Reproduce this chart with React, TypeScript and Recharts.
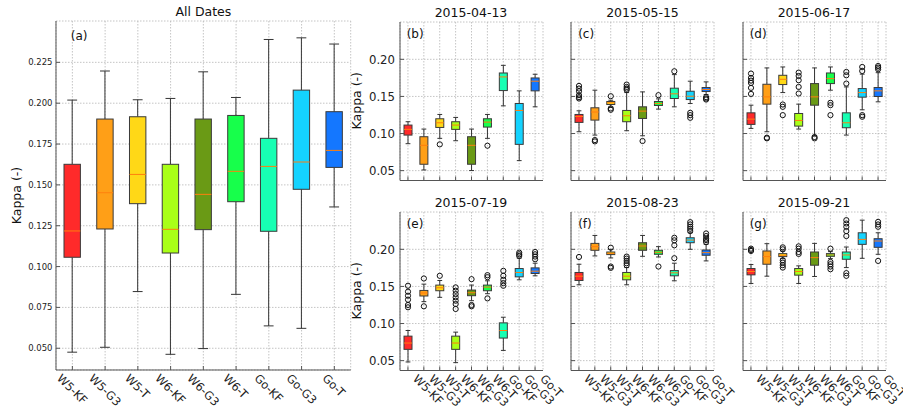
import { ComposedChart, Bar, XAxis, YAxis, CartesianGrid } from "recharts";

const CATEGORIES = ["W5-KF", "W5-G3", "W5-T", "W6-KF", "W6-G3", "W6-T", "Go-KF", "Go-G3", "Go-T"];

const BOX_COLORS = [
    "#ff2a2a", // W5-KF
    "#ff9f17", // W5-G3
    "#ffd817", // W5-T
    "#a9ff17", // W6-KF
    "#6a9a15", // W6-G3
    "#17ff4b", // W6-T
    "#17ffb3", // Go-KF
    "#14d3ff", // Go-G3
    "#1477ff", // Go-T
];

// each row: [low whisker, Q1, median, Q3, high whisker]
const STATS_ALL = [
    [0.0476, 0.1057, 0.1218, 0.1626, 0.2019],
    [0.0506, 0.123, 0.1452, 0.1903, 0.2197],
    [0.0847, 0.1385, 0.1564, 0.1917, 0.2021],
    [0.0463, 0.1083, 0.1228, 0.1626, 0.2029],
    [0.0498, 0.1226, 0.1442, 0.1903, 0.2192],
    [0.083, 0.1397, 0.1583, 0.1925, 0.2035],
    [0.0637, 0.1216, 0.1613, 0.1785, 0.239],
    [0.0622, 0.1473, 0.164, 0.208, 0.24],
    [0.1365, 0.1607, 0.1711, 0.1948, 0.2362],
];
const OUT_ALL: number[][] = [[], [], [], [], [], [], [], [], []];

const STATS_0413 = [
    [0.0863, 0.0979, 0.1056, 0.1114, 0.1159],
    [0.0509, 0.0586, 0.0841, 0.0957, 0.106],
    [0.0935, 0.1082, 0.1145, 0.1199, 0.1257],
    [0.0903, 0.1056, 0.1114, 0.1159, 0.1217],
    [0.0501, 0.0586, 0.0841, 0.0957, 0.106],
    [0.0935, 0.1087, 0.1154, 0.1199, 0.1257],
    [0.1373, 0.1579, 0.1763, 0.1816, 0.1919],
    [0.0635, 0.0854, 0.1311, 0.1405, 0.1575],
    [0.136, 0.1575, 0.1705, 0.1749, 0.1799],
];
const OUT_0413 = [[], [], [0.0854], [], [], [0.0836], [], [], []];

const STATS_0515 = [
    [0.1024, 0.115, 0.123, 0.1257, 0.1306],
    [0.0979, 0.1181, 0.129, 0.1347, 0.1584],
    [0.1355, 0.1391, 0.1414, 0.1432, 0.1449],
    [0.1038, 0.1159, 0.1239, 0.1311, 0.1552],
    [0.097, 0.1203, 0.1302, 0.136, 0.1561],
    [0.1329, 0.1378, 0.1405, 0.1432, 0.1467],
    [0.136, 0.1472, 0.1535, 0.1611, 0.1794],
    [0.1405, 0.1458, 0.1503, 0.157, 0.1705],
    [0.1526, 0.1566, 0.1593, 0.162, 0.1696],
];
const OUT_0515 = [
    [0.1472, 0.149, 0.1517, 0.157, 0.1606, 0.1642],
    [0.0894, 0.0912],
    [0.132, 0.1338, 0.1503],
    [0.1588, 0.1606, 0.1628, 0.166],
    [0.0899],
    [0.1517],
    [0.1839],
    [0.1212, 0.1248, 0.1279],
    [0.1458, 0.1472, 0.149],
];

const STATS_0617 = [
    [0.1069, 0.1123, 0.1194, 0.1279, 0.1382],
    [0.1024, 0.1396, 0.1494, 0.1664, 0.1884],
    [0.1552, 0.166, 0.1731, 0.1785, 0.1897],
    [0.106, 0.11, 0.1176, 0.127, 0.1396],
    [0.097, 0.1382, 0.1494, 0.1673, 0.1884],
    [0.1584, 0.1673, 0.174, 0.1816, 0.1897],
    [0.0979, 0.1078, 0.1145, 0.1279, 0.1628],
    [0.132, 0.149, 0.1552, 0.1606, 0.18],
    [0.1427, 0.1499, 0.1575, 0.162, 0.182],
];
const OUT_0617 = [
    [0.1534, 0.1615, 0.1682, 0.1713, 0.1749, 0.1808],
    [0.0935, 0.0944],
    [0.1248, 0.136, 0.1391],
    [0.1539, 0.1628, 0.1718, 0.1776, 0.1821],
    [0.0935, 0.0953],
    [0.1248, 0.1382, 0.1414],
    [0.1673, 0.1785, 0.183],
    [0.1226, 0.1248, 0.1843, 0.1897],
    [0.1866, 0.1888, 0.191],
];

const STATS_0719 = [
    [0.0482, 0.0652, 0.0737, 0.083, 0.0906],
    [0.1295, 0.1371, 0.1411, 0.1446, 0.1531],
    [0.1353, 0.1442, 0.1482, 0.1518, 0.158],
    [0.0473, 0.0652, 0.0737, 0.083, 0.0884],
    [0.1308, 0.1375, 0.1415, 0.1451, 0.1518],
    [0.1402, 0.1442, 0.1491, 0.1518, 0.1576],
    [0.0638, 0.0804, 0.0906, 0.1009, 0.1085],
    [0.1589, 0.1629, 0.1688, 0.1741, 0.188],
    [0.1643, 0.1674, 0.1705, 0.175, 0.1813],
];
const OUT_0719 = [
    [0.1219, 0.125, 0.1321, 0.1375, 0.1429, 0.1509],
    [0.1232, 0.1607],
    [0.1643],
    [0.1196, 0.1263, 0.1308, 0.1353, 0.1397, 0.1442, 0.1487],
    [0.1232, 0.125, 0.1598],
    [0.1339, 0.1625, 0.1652],
    [0.1509, 0.1545, 0.1589, 0.1643, 0.171],
    [0.1911, 0.1933, 0.1955],
    [0.1866, 0.1902, 0.1933, 0.1964],
];

const STATS_0823 = [
    [0.1522, 0.158, 0.1638, 0.1688, 0.1799],
    [0.1911, 0.1987, 0.2036, 0.208, 0.2187],
    [0.1884, 0.1929, 0.1946, 0.1964, 0.2],
    [0.1522, 0.1589, 0.1638, 0.1688, 0.1754],
    [0.1906, 0.1987, 0.2045, 0.2089, 0.2187],
    [0.1897, 0.1933, 0.196, 0.1987, 0.2036],
    [0.1576, 0.1643, 0.1683, 0.1714, 0.1813],
    [0.2, 0.2089, 0.2125, 0.2156, 0.2223],
    [0.1844, 0.192, 0.1955, 0.1991, 0.2067],
];
const OUT_0823 = [
    [0.1897],
    [],
    [0.175, 0.1768, 0.2022],
    [0.1786, 0.1813, 0.1844, 0.1875, 0.1902],
    [],
    [0.1768],
    [0.188, 0.2054, 0.2121, 0.2156],
    [0.2246, 0.2277, 0.2304, 0.2335, 0.2366],
    [0.2098, 0.2125, 0.2143, 0.2179, 0.2214],
];

const STATS_0921 = [
    [0.154, 0.1656, 0.1701, 0.1741, 0.1795],
    [0.1638, 0.1799, 0.1902, 0.1978, 0.2076],
    [0.1875, 0.1902, 0.192, 0.1942, 0.1978],
    [0.154, 0.1652, 0.1701, 0.1741, 0.1777],
    [0.1634, 0.1786, 0.1888, 0.1964, 0.208],
    [0.1875, 0.1906, 0.1924, 0.1942, 0.1969],
    [0.1754, 0.1866, 0.1924, 0.1964, 0.2031],
    [0.1879, 0.2067, 0.2134, 0.2223, 0.2393],
    [0.1933, 0.2027, 0.2112, 0.2143, 0.2223],
];
const OUT_0921 = [
    [0.1978, 0.1991, 0.2009],
    [],
    [0.1754, 0.1786, 0.1821, 0.1853, 0.2, 0.2027],
    [0.1938, 0.1964, 0.2009, 0.204],
    [],
    [0.1732, 0.1768, 0.1799, 0.183, 0.2009],
    [0.1643, 0.1679, 0.2179, 0.2246, 0.2304, 0.2348, 0.2393],
    [],
    [0.1844, 0.2304, 0.2335, 0.237],
];

const Y_DOMAIN: [number, number] = [0.0367, 0.2503];
const TICKS_ALL = [0.05, 0.075, 0.1, 0.125, 0.15, 0.175, 0.2, 0.225];
const TICKS_DATE = [0.05, 0.1, 0.15, 0.2];

const FONT = "'DejaVu Sans', sans-serif";
const FRAME = "#555";

// rough DejaVu Sans advance widths (em)
const CHAR_W: Record<string, number> = {
    W: 0.989, K: 0.656, F: 0.575, G: 0.775, T: 0.611, o: 0.612, "-": 0.361, "3": 0.636, "5": 0.636, "6": 0.636,
};
const textWidth = (s: string, fs: number) => s.split("").reduce((a, c) => a + (CHAR_W[c] ?? 0.62), 0) * fs;

const BoxShape = (props: any) => {
    const { x, y, width, height, payload } = props;
    const [lo, q1, med, q3, hi] = payload.stats;
    const yLo = y + height;
    const py = (v: number) => yLo + ((v - lo) / (hi - lo)) * (y - yLo);
    const cx = x + width / 2;
    const cap = width * 0.3;
    return (
        <g>
            <line x1={cx} x2={cx} y1={py(hi)} y2={py(q3)} stroke="#333" strokeWidth={1} />
            <line x1={cx} x2={cx} y1={py(q1)} y2={py(lo)} stroke="#333" strokeWidth={1} />
            <line x1={cx - cap} x2={cx + cap} y1={py(hi)} y2={py(hi)} stroke="#333" strokeWidth={1} />
            <line x1={cx - cap} x2={cx + cap} y1={py(lo)} y2={py(lo)} stroke="#333" strokeWidth={1} />
            <rect x={x} y={py(q3)} width={width} height={py(q1) - py(q3)} fill={payload.color} stroke="#3a3a3a" strokeWidth={1} />
            <line x1={x} x2={x + width} y1={py(med)} y2={py(med)} stroke="#ff7f0e" strokeWidth={1} />
            {payload.outliers.map((o: number, i: number) => (
                <circle key={i} cx={cx} cy={py(o)} r={2.6} fill="none" stroke="#111" strokeWidth={1} />
            ))}
        </g>
    );
};

const makeYTick = (show: boolean, fs: number, digits: number, gap: number) => (p: any) => (
    <g>
        <line x1={p.x} x2={p.x + 4} y1={p.y} y2={p.y} stroke={FRAME} />
        {show && (
            <text x={p.x - gap} y={p.y + fs * 0.36} textAnchor="end" fontSize={fs} fontFamily={FONT} fill="#222">
                {Number(p.payload.value).toFixed(digits)}
            </text>
        )}
    </g>
);

const X_FS = 11.5;
const makeXTick = (mode: "none" | "center" | "start") => (p: any) => {
    const label = String(p.payload.value);
    const asc = 0.729 * X_FS;
    const L = textWidth(label, X_FS);
    let sx = p.x + 4.4;
    const sy = p.y + 3 + asc * 0.707;
    if (mode === "center") sx = p.x - ((L + asc) * 0.707) / 2;
    return (
        <g>
            <line x1={p.x} x2={p.x} y1={p.y} y2={p.y - 4} stroke={FRAME} />
            {mode !== "none" && (
                <text x={0} y={0} transform={`translate(${sx},${sy}) rotate(45)`} fontSize={X_FS} fontFamily={FONT} fill="#222">
                    {label}
                </text>
            )}
        </g>
    );
};

interface Panel {
    title: string;
    letter: string;
    stats: number[][];
    outliers: number[][];
    left: number;
    top: number;
    w: number;
    h: number;
    yLabels: boolean;
    xMode: "none" | "center" | "start";
    ticks: number[];
    digits: number;
    yFont: number;
    yGap: number;
    box: number;
}

const SMALL_W = 143;
const SMALL_H = 158.5;

const PANELS: Panel[] = [
    { title: "All Dates", letter: "(a)", stats: STATS_ALL, outliers: OUT_ALL, left: 56, top: 21, w: 294.7, h: 349, yLabels: true, xMode: "center", ticks: TICKS_ALL, digits: 3, yFont: 8.5, yGap: 3.5, box: 16.4 },
    { title: "2015-04-13", letter: "(b)", stats: STATS_0413, outliers: OUT_0413, left: 399.5, top: 21.5, w: SMALL_W, h: SMALL_H, yLabels: true, xMode: "none", ticks: TICKS_DATE, digits: 2, yFont: 11.7, yGap: 5, box: 8 },
    { title: "2015-05-15", letter: "(c)", stats: STATS_0515, outliers: OUT_0515, left: 571, top: 21.5, w: SMALL_W, h: SMALL_H, yLabels: false, xMode: "none", ticks: TICKS_DATE, digits: 2, yFont: 11.7, yGap: 5, box: 8 },
    { title: "2015-06-17", letter: "(d)", stats: STATS_0617, outliers: OUT_0617, left: 742.5, top: 21.5, w: SMALL_W, h: SMALL_H, yLabels: false, xMode: "none", ticks: TICKS_DATE, digits: 2, yFont: 11.7, yGap: 5, box: 8 },
    { title: "2015-07-19", letter: "(e)", stats: STATS_0719, outliers: OUT_0719, left: 399.5, top: 211.5, w: SMALL_W, h: SMALL_H, yLabels: true, xMode: "start", ticks: TICKS_DATE, digits: 2, yFont: 11.7, yGap: 5, box: 8 },
    { title: "2015-08-23", letter: "(f)", stats: STATS_0823, outliers: OUT_0823, left: 571, top: 211.5, w: SMALL_W, h: SMALL_H, yLabels: false, xMode: "start", ticks: TICKS_DATE, digits: 2, yFont: 11.7, yGap: 5, box: 8 },
    { title: "2015-09-21", letter: "(g)", stats: STATS_0921, outliers: OUT_0921, left: 742.5, top: 211.5, w: SMALL_W, h: SMALL_H, yLabels: false, xMode: "start", ticks: TICKS_DATE, digits: 2, yFont: 11.7, yGap: 5, box: 8 },
];

const BoxPanel = ({ p }: { p: Panel }) => {
    const yW = p.yLabels ? 50 : 20;
    const mt = 4;
    const mr = 34;
    const xH = 413 - (p.top + p.h);
    const data = CATEGORIES.map((name, i) => ({
        name,
        range: [p.stats[i][0], p.stats[i][4]],
        stats: p.stats[i],
        outliers: p.outliers[i],
        color: BOX_COLORS[i],
    }));
    return (
        <div style={{ position: "absolute", left: p.left - yW, top: p.top - mt }}>
            <ComposedChart width={yW + p.w + mr} height={mt + p.h + xH} data={data} margin={{ top: mt, right: mr, left: 0, bottom: 0 }}>
                <CartesianGrid stroke="#b5b5b5" strokeDasharray="1.5 1.5" strokeWidth={0.8} />
                <XAxis dataKey="name" type="category" interval={0} height={xH} tickSize={0} tickMargin={0} tickLine={false} axisLine={{ stroke: FRAME }} tick={makeXTick(p.xMode)} />
                <XAxis xAxisId="top" dataKey="name" orientation="top" height={0} tick={false} tickLine={false} axisLine={{ stroke: FRAME }} />
                <YAxis type="number" domain={Y_DOMAIN} allowDataOverflow ticks={p.ticks} interval={0} width={yW} tickSize={0} tickMargin={0} tickLine={false} axisLine={{ stroke: FRAME }} tick={makeYTick(p.yLabels, p.yFont, p.digits, p.yGap)} />
                <YAxis yAxisId="right" orientation="right" type="number" domain={Y_DOMAIN} allowDataOverflow width={0} tick={false} tickLine={false} axisLine={{ stroke: FRAME }} />
                <Bar dataKey="range" barSize={p.box} shape={BoxShape} isAnimationActive={false} />
            </ComposedChart>
        </div>
    );
};

export default function App() {
    return (
        <div style={{ position: "absolute", left: 0, top: 0, width: 903, height: 413, background: "#fff", fontFamily: FONT, overflow: "hidden" }}>
            {PANELS.map(p => (
                <BoxPanel key={p.letter} p={p} />
            ))}
            <svg width={903} height={413} style={{ position: "absolute", left: 0, top: 0, pointerEvents: "none" }}>
                {PANELS.map(p => (
                    <g key={p.letter} fontFamily={FONT} fill="#111">
                        <text x={p.left + p.w / 2} y={p.top - 4.7} textAnchor="middle" fontSize={12.5}>{p.title}</text>
                        <text x={p.left + p.w * 0.05} y={p.top + (p.letter === "(a)" ? 18.5 : 16)} fontSize={12}>{p.letter}</text>
                    </g>
                ))}
                <g fontFamily={FONT} fill="#111" fontSize={12.5}>
                    <text transform="translate(20.5,195.5) rotate(-90)" textAnchor="middle">Kappa (-)</text>
                    <text transform="translate(360.5,100.7) rotate(-90)" textAnchor="middle">Kappa (-)</text>
                    <text transform="translate(360.5,290.7) rotate(-90)" textAnchor="middle">Kappa (-)</text>
                </g>
            </svg>
        </div>
    );
}
